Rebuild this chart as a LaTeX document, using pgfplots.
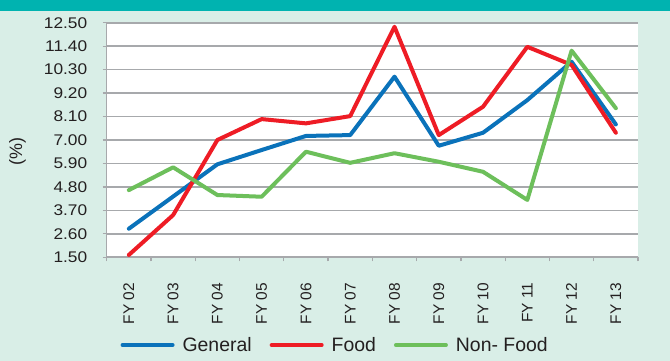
\documentclass[border=0pt]{standalone}
\usepackage{pgfplots}
\pgfplotsset{compat=1.18}
\usepackage{fontspec}
\setmainfont{Liberation Sans}
\newfontfamily\tickfont[FakeStretch=1.12]{Liberation Sans}
\definecolor{mintbg}{HTML}{D9EEE7}
\definecolor{topbar}{HTML}{00B3B0}
\definecolor{cgen}{HTML}{0A72BA}
\definecolor{cfood}{HTML}{EE1C25}
\definecolor{cnon}{HTML}{6DBF5B}
\definecolor{gridc}{HTML}{A7A9AC}
\definecolor{txt}{HTML}{231F20}
\begin{document}
\begin{tikzpicture}
\fill[mintbg] (0,0) rectangle (670bp,361bp);
\fill[topbar] (0,349.5bp) rectangle (670bp,361bp);
\begin{axis}[
  at={(106.7bp,103.7bp)}, anchor=south west,
  scale only axis, width=531.3bp, height=234.6bp,
  xmin=-0.5, xmax=11.5, ymin=1.5, ymax=12.5,
  axis lines*=left,
  axis line style={gridc, line width=1.2bp},
  axis background/.style={fill=white},
  ymajorgrids, major grid style={gridc, line width=1.7bp},
  tick align=outside, major tick length=4bp,
  tick style={gridc, line width=1.2bp},
  xtick={-0.5,0.5,...,11.5},
  x tick label as interval,
  xticklabels={FY 02,FY 03,FY 04,FY 05,FY 06,FY 07,FY 08,FY 09,FY 10,FY 11,FY 12,FY 13},
  xticklabel style={yshift=-18bp, rotate=90, anchor=east, font=\fontsize{15.5}{18}\selectfont, text=txt},
  ytick={1.5,2.6,3.7,4.8,5.9,7.0,8.1,9.2,10.3,11.4,12.5},
  yticklabels={1.50,2.60,3.70,4.80,5.90,7.00,8.10,9.20,10.30,11.40,12.50},
  yticklabel style={font=\tickfont\fontsize{15.5}{18}\selectfont, text=txt, xshift=-12bp},
  /pgf/number format/assume math mode=true,
  ylabel={(\%)},
  ylabel style={at={(axis description cs:-0.168,0.45)}, anchor=center, font=\fontsize{18}{20}\selectfont, text=txt},
  legend columns=3,
  legend style={at={(0.43,-0.374)}, anchor=center, draw=none, fill=none,
    font=\fontsize{19.5}{22}\selectfont, text=txt,
    /tikz/every odd column/.append style={column sep=6bp},
    /tikz/every even column/.append style={column sep=16bp}},
  legend image code/.code={\draw (0bp,0bp) -- (50bp,0bp);},
  every axis plot/.append style={line width=4bp, line join=round, line cap=round},
]
\addplot[cgen] coordinates {(0,2.84) (1,4.35) (2,5.86) (3,6.53) (4,7.19) (5,7.23) (6,9.97) (7,6.73) (8,7.34) (9,8.87) (10,10.67) (11,7.73)};
\addlegendentry{General}
\addplot[cfood] coordinates {(0,1.61) (1,3.48) (2,7.00) (3,7.98) (4,7.78) (5,8.12) (6,12.31) (7,7.23) (8,8.56) (9,11.37) (10,10.52) (11,7.34)};
\addlegendentry{Food}
\addplot[cnon] coordinates {(0,4.65) (1,5.72) (2,4.42) (3,4.34) (4,6.45) (5,5.93) (6,6.38) (7,5.98) (8,5.51) (9,4.19) (10,11.19) (11,8.49)};
\addlegendentry{Non- Food}
\end{axis}
\end{tikzpicture}
\end{document}
